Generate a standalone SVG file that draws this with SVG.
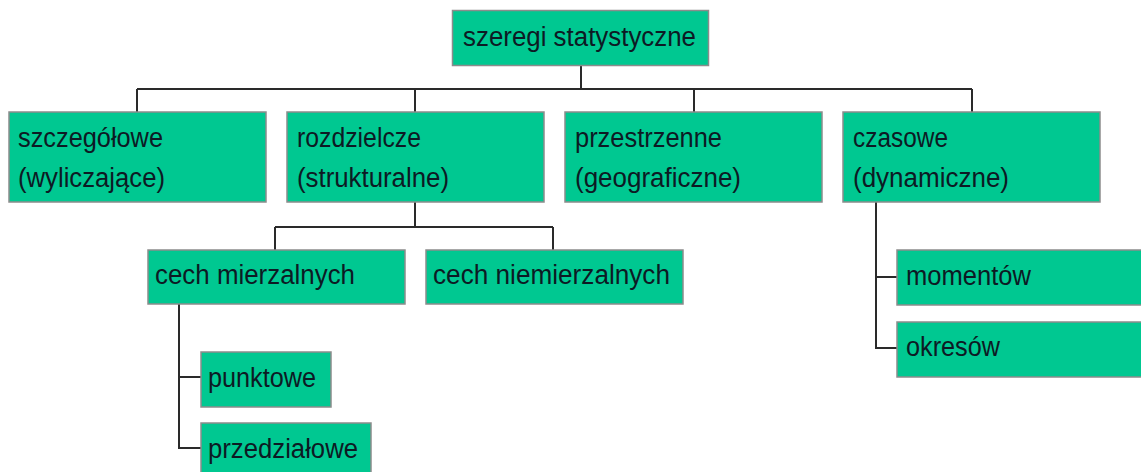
<svg xmlns="http://www.w3.org/2000/svg" width="1141" height="472" viewBox="0 0 1141 472">
<style>
.box{fill:#00C891;stroke:#8c8c8c;stroke-width:1.5}
.t{font-family:"Liberation Sans Narrow","Liberation Sans",Arial,sans-serif;font-size:27px;fill:#0d1a24}
.c{fill:none;stroke:#2a2a2a;stroke-width:2}
</style>
<rect width="1141" height="472" fill="#ffffff"/>
<g id="connectors">
<path class="c" d="M581 66V89M137 89H972M137 89V112M415 89V112M694 89V112M972 89V112"/>
<path class="c" d="M415 202V227M275 227H553M275 227V250M553 227V250"/>
<path class="c" d="M179 304V448H201M179 377H201"/>
<path class="c" d="M876 202V348H897M876 277H897"/>
</g>
<g id="n_root"><rect class="box" x="452.5" y="10.5" width="256" height="55"/><text class="t" x="463" y="46" textLength="233" lengthAdjust="spacingAndGlyphs">szeregi statystyczne</text></g>
<g id="n_szczegolowe"><rect class="box" x="9" y="112" width="257" height="90"/><text class="t" x="18" y="147" textLength="145" lengthAdjust="spacingAndGlyphs">szczegółowe</text><text class="t" x="18" y="187" textLength="147" lengthAdjust="spacingAndGlyphs">(wyliczające)</text></g>
<g id="n_rozdzielcze"><rect class="box" x="287" y="112" width="257" height="90"/><text class="t" x="297" y="147" textLength="124" lengthAdjust="spacingAndGlyphs">rozdzielcze</text><text class="t" x="297" y="187" textLength="152" lengthAdjust="spacingAndGlyphs">(strukturalne)</text></g>
<g id="n_przestrzenne"><rect class="box" x="565" y="112" width="257" height="90"/><text class="t" x="575" y="147" textLength="147" lengthAdjust="spacingAndGlyphs">przestrzenne</text><text class="t" x="575" y="187" textLength="166" lengthAdjust="spacingAndGlyphs">(geograficzne)</text></g>
<g id="n_czasowe"><rect class="box" x="843" y="112" width="257" height="90"/><text class="t" x="853" y="147" textLength="95" lengthAdjust="spacingAndGlyphs">czasowe</text><text class="t" x="853" y="187" textLength="156" lengthAdjust="spacingAndGlyphs">(dynamiczne)</text></g>
<g id="n_mierzalnych"><rect class="box" x="148" y="250" width="257" height="54"/><text class="t" x="155" y="284" textLength="200" lengthAdjust="spacingAndGlyphs">cech mierzalnych</text></g>
<g id="n_niemierzalnych"><rect class="box" x="426" y="250" width="257" height="54"/><text class="t" x="433" y="284" textLength="237" lengthAdjust="spacingAndGlyphs">cech niemierzalnych</text></g>
<g id="n_punktowe"><rect class="box" x="201" y="352" width="130" height="55"/><text class="t" x="208" y="387" textLength="108" lengthAdjust="spacingAndGlyphs">punktowe</text></g>
<g id="n_przedzialowe"><rect class="box" x="201" y="423" width="170" height="60"/><text class="t" x="208" y="458" textLength="150" lengthAdjust="spacingAndGlyphs">przedziałowe</text></g>
<g id="n_momentow"><rect class="box" x="897" y="250" width="260" height="55"/><text class="t" x="906" y="285" textLength="125" lengthAdjust="spacingAndGlyphs">momentów</text></g>
<g id="n_okresow"><rect class="box" x="897" y="322" width="260" height="55"/><text class="t" x="906" y="356" textLength="94" lengthAdjust="spacingAndGlyphs">okresów</text></g>
</svg>
